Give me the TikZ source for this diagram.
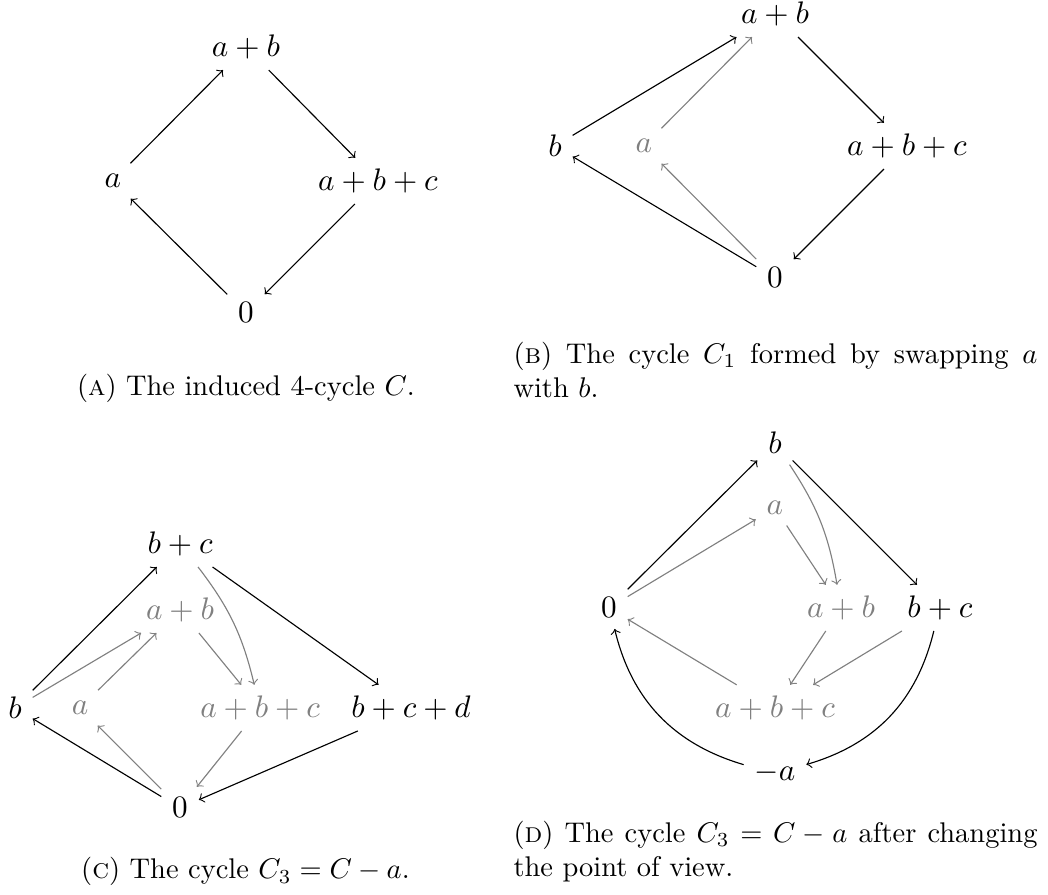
\documentclass[11pt,tikz,border=0pt]{standalone}
\usetikzlibrary{positioning}

\begin{document}
\begin{tikzpicture}[
    scale=1.0672,
    faded/.style={text=gray},
    cycle edge/.style={->},
    faded edge/.style={->, draw=gray},
    sub caption/.style={font=\small, inner sep=0pt},
    wide caption/.style={sub caption, anchor=north west,
        text width=6.470cm, align=justify}
]
    \useasboundingbox (0,0) rectangle (12.126,10.355);

    % (a) the induced 4-cycle
    \begin{scope}[shift={(2.846,8.261)}]
        \node (aA) at (-1.539,0) {$a$};
        \node (abA) at (0,1.550) {$a+b$};
        \node (abcA) at (1.527,0) {$a+b+c$};
        \node (zeroA) at (0,-1.527) {$0$};
        \draw[cycle edge] (aA) -- (abA);
        \draw[cycle edge] (abA) -- (abcA);
        \draw[cycle edge] (abcA) -- (zeroA);
        \draw[cycle edge] (zeroA) -- (aA);
    \end{scope}
    \node[sub caption, anchor=base] (capA) at (2.846,5.773)
        {(\textsc{a}) The induced 4-cycle $C$.};

    % (b) swapping a with b
    \begin{scope}[shift={(8.967,8.666)}]
        \node (bB) at (-2.545,0) {$b$};
        \node[faded] (aB) at (-1.516,0) {$a$};
        \node (abB) at (0,1.527) {$a+b$};
        \node (abcB) at (1.527,0) {$a+b+c$};
        \node (zeroB) at (0,-1.527) {$0$};
        \draw[faded edge] (aB) -- (abB);
        \draw[faded edge] (zeroB) -- (aB);
        \draw[cycle edge] (bB) -- (abB);
        \draw[cycle edge] (abB) -- (abcB);
        \draw[cycle edge] (abcB) -- (zeroB);
        \draw[cycle edge] (zeroB) -- (bB);
    \end{scope}
    \node[wide caption] (capB) at (5.935,6.402)
        {(\textsc{b}) The cycle $C_1$ formed by swapping $a$ with $b$.};

    % (c) C_3 = C - a
    \begin{scope}[shift={(2.083,2.164)}]
        \node (bC) at (-1.909,0) {$b$};
        \node[faded] (aC) at (-1.157,0) {$a$};
        \node (bcC) at (0,1.897) {$b+c$};
        \node[faded] (abC) at (0,1.134) {$a+b$};
        \node[faded] (abcC) at (0.926,0) {$a+b+c$};
        \node (bcdC) at (2.673,0) {$b+c+d$};
        \node (zeroC) at (0,-1.157) {$0$};
        \draw[faded edge] (bC) -- (abC);
        \draw[faded edge] (aC) -- (abC);
        \draw[faded edge] (abC) -- (abcC);
        \draw[faded edge] (bcC) to[bend left=12] (abcC);
        \draw[faded edge] (abcC) -- (zeroC);
        \draw[faded edge] (zeroC) -- (aC);
        \draw[cycle edge] (bC) -- (bcC);
        \draw[cycle edge] (bcC) -- (bcdC);
        \draw[cycle edge] (bcdC) -- (zeroC);
        \draw[cycle edge] (zeroC) -- (bC);
    \end{scope}
    \node[sub caption, anchor=base] (capC) at (2.840,0.185)
        {(\textsc{c}) The cycle $C_3 = C - a$.};

    % (d) same cycle, other point of view
    \begin{scope}[shift={(8.967,3.321)}]
        \node (bD) at (0,1.909) {$b$};
        \node[faded] (aD) at (0,1.157) {$a$};
        \node (zeroD) at (-1.921,0) {$0$};
        \node[faded] (abD) at (0.764,0) {$a+b$};
        \node (bcD) at (1.909,0) {$b+c$};
        \node[faded] (abcD) at (0,-1.157) {$a+b+c$};
        \node (minusaD) at (0,-1.909) {$-a$};
        \draw[faded edge] (zeroD) -- (aD);
        \draw[faded edge] (aD) -- (abD);
        \draw[faded edge] (bD) to[bend left=12] (abD);
        \draw[faded edge] (abD) -- (abcD);
        \draw[faded edge] (bcD) -- (abcD);
        \draw[faded edge] (abcD) -- (zeroD);
        \draw[cycle edge] (zeroD) -- (bD);
        \draw[cycle edge] (bD) -- (bcD);
        \draw[cycle edge] (bcD) to[bend left=30] (minusaD);
        \draw[cycle edge] (minusaD) to[bend left=30] (zeroD);
    \end{scope}
    \node[wide caption] (capD) at (5.935,0.860)
        {(\textsc{d}) The cycle $C_3 = C - a$ after changing the point of view.};
\end{tikzpicture}
\end{document}
